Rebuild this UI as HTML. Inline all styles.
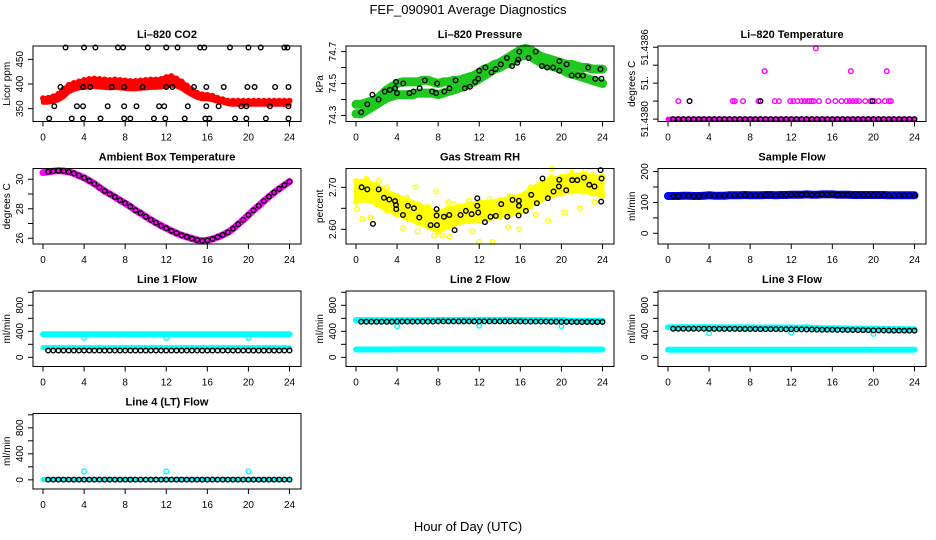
<!DOCTYPE html>
<html><head><meta charset="utf-8"><style>
body{margin:0;background:#fff;}
svg{display:block;font-family:"Liberation Sans",sans-serif;}
</style></head><body>
<svg id="c" width="936" height="540" viewBox="0 0 936 540">
<text x="468" y="14" font-size="13" text-anchor="middle">FEF_090901  Average Diagnostics</text>
<text x="468" y="531" font-size="13" text-anchor="middle">Hour of Day (UTC)</text>
</svg>
<script>
// ---- data ----
const H = [0,0.5,1,1.5,2,2.5,3,3.5,4,4.5,5,5.5,6,6.5,7,7.5,8,8.5,9,9.5,10,10.5,11,11.5,12,12.5,13,13.5,14,14.5,15,15.5,16,16.5,17,17.5,18,18.5,19,19.5,20,20.5,21,21.5,22,22.5,23,23.5,24];
const HR = [0,1,2,3,4,5,6,7,8,9,10,11,12,13,14,15,16,17,18,19,20,21,22,23,24];
const xTicks = [0,4,8,12,16,20,24];

const co2Lo = [362,362,364,367,373,383,388,391,392,393,394,393,392,391,392,391,390,389,389,390,391,392,392,393,395,397,395,390,383,377,372,369,369,367,364,362,359,358,358,358,358,358,358,358,358,358,358,358,358];
const co2Hi = [371,372,375,380,390,398,402,405,408,410,411,410,409,408,409,408,407,406,406,407,408,409,409,410,414,416,411,405,397,389,382,379,378,376,372,369,366,366,366,366,366,366,366,366,366,366,366,366,366];
const co2BlackX = [2.2,4,5.1,7.3,7.8,10.2,12,13.1,15.3,15.7,18.2,20,21.2,23.5,23.8, 1.7,3.9,4.6,6.7,7.9,9.7,12,12.6,14.7,15.9,17.6,19.9,20.6,22.6,23.9, 1.1,3.3,3.9,6.3,7.9,9.1,11.3,11.8,14.1,15.9,17.1,19.3,19.8,22.1,23.9, 0.6,2.8,3.9,5.6,7.9,8.5,10.8,11.9,13.8,15.8,16.2,18.7,19.8,21.7,23.9];
const co2BlackY = [474,474,474,474,474,474,474,474,474,474,474,474,474,474,474, 394,394,394,394,394,394,394,394,394,394,394,394,394,394,394, 355,355,355,355,355,355,355,355,355,355,355,355,355,355,355, 330,330,330,330,330,330,330,330,330,330,330,330,330,330,330];

const presLo = [74.31,74.31,74.33,74.35,74.37,74.39,74.41,74.42,74.43,74.43,74.43,74.43,74.44,74.44,74.44,74.44,74.43,74.44,74.45,74.46,74.47,74.48,74.50,74.51,74.53,74.55,74.57,74.59,74.60,74.62,74.63,74.65,74.67,74.68,74.67,74.65,74.63,74.62,74.61,74.60,74.59,74.57,74.56,74.55,74.54,74.53,74.52,74.51,74.50];
const presHi = [74.37,74.37,74.38,74.39,74.40,74.43,74.46,74.48,74.50,74.51,74.51,74.51,74.51,74.52,74.52,74.51,74.50,74.51,74.51,74.52,74.52,74.53,74.54,74.55,74.57,74.59,74.60,74.62,74.63,74.65,74.67,74.69,74.71,74.72,74.71,74.69,74.67,74.66,74.65,74.64,74.63,74.62,74.62,74.61,74.60,74.60,74.59,74.59,74.59];
const presBlackX = [0.5,1.1,1.6,2.2,2.8,3.3,3.8,3.9,4,4.6,5.2,5.6,6.2,6.7,7.4,7.8,7.9,8.6,9.1,9.7,10.6,11.1,11.6,11.9,12,12.6,13.2,13.6,14.1,14.7,15.2,15.7,15.8,15.9,16.8,17.5,18.1,18.6,19.2,19.8,19.8,20.5,21,21.6,22.1,22.6,23.3,23.8,23.9];
const presBlackY = [74.32,74.37,74.43,74.40,74.45,74.46,74.47,74.51,74.44,74.50,74.44,74.45,74.47,74.52,74.45,74.44,74.50,74.45,74.47,74.52,74.47,74.48,74.51,74.53,74.58,74.60,74.57,74.59,74.62,74.66,74.61,74.63,74.65,74.70,74.66,74.70,74.61,74.60,74.60,74.58,74.64,74.62,74.55,74.55,74.55,74.60,74.53,74.59,74.53];

const tempMagX = [1,2.1,6.3,6.5,7.3,8.8,9,10.4,10.8,11.9,12.2,12.6,13,13.3,13.6,13.8,14,14.2,14.7,15.6,16.3,16.9,17.4,17.7,18,18.3,18.6,19.2,19.7,20.1,20.5,21.1,21.5,21.7, 9.4,17.8,21.3, 14.4];
const tempMagY = [51.43815,51.43815,51.43815,51.43815,51.43815,51.43815,51.43815,51.43815,51.43815,51.43815,51.43815,51.43815,51.43815,51.43815,51.43815,51.43815,51.43815,51.43815,51.43815,51.43815,51.43815,51.43815,51.43815,51.43815,51.43815,51.43815,51.43815,51.43815,51.43815,51.43815,51.43815,51.43815,51.43815,51.43815, 51.4384,51.4384,51.4384, 51.43859];
const tempBase = [51.4380,51.4380,51.4380,51.4380,51.4380,51.4380,51.4380,51.4380,51.4380,51.4380,51.4380,51.4380,51.4380,51.4380,51.4380,51.4380,51.4380,51.4380,51.4380,51.4380,51.4380,51.4380,51.4380,51.4380,51.4380,51.4380,51.4380,51.4380,51.4380,51.4380,51.4380,51.4380,51.4380,51.4380,51.4380,51.4380,51.4380,51.4380,51.4380,51.4380,51.4380,51.4380,51.4380,51.4380,51.4380,51.4380,51.4380,51.4380,51.4380];
const tempBlackX = [2.1,9,19.9];
const tempBlackY = [51.43815,51.43815,51.43815];

const ambient = [30.45,30.5,30.55,30.58,30.56,30.5,30.4,30.25,30.1,29.9,29.7,29.45,29.2,29.0,28.8,28.58,28.37,28.15,27.9,27.7,27.47,27.25,27.05,26.85,26.68,26.5,26.35,26.2,26.09,25.98,25.88,25.82,25.86,25.95,26.08,26.22,26.4,26.65,26.95,27.25,27.58,27.9,28.2,28.52,28.82,29.1,29.35,29.6,29.84];

const rhLo = [2.665,2.670,2.660,2.645,2.635,2.625,2.615,2.605,2.595,2.605,2.615,2.620,2.620,2.625,2.630,2.635,2.640,2.655,2.670,2.680,2.685,2.690,2.690,2.685,2.680];
const rhHi = [2.715,2.715,2.705,2.690,2.680,2.670,2.660,2.650,2.640,2.650,2.655,2.660,2.665,2.665,2.670,2.675,2.680,2.695,2.710,2.720,2.725,2.730,2.730,2.725,2.725];
const rhYelX = [0.1,0.6,1.4,2.2,4.6,5.8,6.0,7.6,7.8,8.4,9.1,9.5,11.3,12,13.3,14.8,15.9,17.5,18.7,19.1,20.3,21.8,22.3,23.2,23.8,1.0,3.0,5.0,7.0,9.0,11.0,13.0,15.0,17.0,19.0,21.0,23.0];
const rhYelY = [2.648,2.625,2.628,2.715,2.603,2.700,2.595,2.585,2.690,2.585,2.583,2.660,2.595,2.570,2.570,2.605,2.600,2.635,2.620,2.745,2.640,2.650,2.740,2.665,2.725,2.720,2.700,2.675,2.655,2.665,2.668,2.672,2.680,2.700,2.725,2.735,2.730];
const rhBlackX = [0.55,1.10,1.65,2.21,2.72,3.24,3.80,3.89,3.92,4.57,5.06,5.64,6.16,7.27,7.85,7.85,7.88,8.56,9.08,9.60,10.18,10.70,11.26,11.81,11.81,11.90,12.55,13.10,13.62,14.14,14.73,15.24,15.86,15.86,15.83,16.54,17.06,17.61,18.16,18.68,19.23,19.75,19.79,20.47,21.05,21.54,22.19,22.71,23.22,23.81,23.91,23.87];
const rhBlackY = [2.700,2.695,2.613,2.695,2.675,2.671,2.667,2.658,2.648,2.634,2.656,2.650,2.628,2.610,2.648,2.633,2.610,2.630,2.634,2.598,2.634,2.644,2.636,2.674,2.656,2.640,2.617,2.630,2.632,2.660,2.630,2.670,2.668,2.656,2.633,2.644,2.682,2.662,2.721,2.674,2.690,2.702,2.718,2.693,2.717,2.717,2.723,2.706,2.702,2.741,2.721,2.666];

const sampleFlow = [121,121,121,122,122,121,121,122,123,122,122,122,123,123,123,124,123,123,123,124,124,123,124,124,125,125,125,126,125,125,126,126,126,125,125,125,124,124,124,124,124,124,124,123,123,123,123,123,123];

const l1Upper = [355,355,355,356,356,356,356,356,355,356,356,356,356,356,356,356,356,356,356,356,356,356,356,356,356,356,356,356,356,356,356,356,356,356,356,356,356,356,356,356,355,356,356,356,356,356,356,356,356];
const l1Lower = [150,150,150,150,150,150,150,150,150,150,150,150,150,150,150,150,150,150,150,150,150,150,150,150,150,150,150,150,150,150,150,150,150,150,150,150,150,150,150,150,150,150,150,150,150,150,150,150,150];
const l1Black = [105,105,105,105,105,105,105,105,105,105,105,105,105,105,105,105,105,105,105,105,105,105,105,105,105,105,105,105,105,105,105,105,105,105,105,105,105,105,105,105,105,105,105,105,105,105,105,105,105];
const dipX = [4,12,20];
const l1Dip = [300,300,300];

const l2Upper = [572,572,572,572,572,572,572,572,572,572,572,572,572,572,574,574,574,574,575,575,575,575,575,575,575,576,576,576,575,575,575,575,575,575,574,574,574,572,572,572,570,566,564,562,560,560,558,558,558];
const l2Lower = [120,120,120,120,120,120,120,120,122,122,122,122,122,122,122,122,122,122,122,122,122,122,122,122,122,122,122,122,122,122,122,122,122,122,122,122,122,122,122,122,122,120,120,120,120,120,120,120,120];
const l2Black = [548,548,548,548,548,548,548,548,550,550,550,550,550,550,550,550,552,552,552,552,552,552,552,552,552,552,552,552,552,552,552,552,552,550,550,550,550,550,548,548,546,546,546,544,544,544,544,544,544];
const l2Dip = [480,485,480];

const l3Upper = [462,462,462,462,462,462,462,462,462,460,460,460,460,460,460,460,460,458,458,458,458,458,458,458,458,455,458,460,452,450,448,448,446,446,444,444,442,442,440,440,438,438,436,436,434,434,432,432,432];
const l3Lower = [118,118,118,118,118,118,118,118,118,118,118,118,118,118,118,118,118,118,118,118,118,118,118,118,118,118,118,118,118,118,118,118,118,118,118,118,118,118,118,118,118,118,118,118,118,118,118,118,118];
const l3Black = [440,440,440,440,440,440,440,440,440,438,438,438,438,438,436,436,436,436,434,434,434,434,432,432,432,430,430,428,428,426,424,424,424,422,422,420,420,418,418,416,414,414,412,412,410,410,410,410,410];
const l3Dip = [370,380,360];

const l4Cyan = [5,5,5,5,5,5,5,5,5,5,5,5,5,5,5,5,5,5,5,5,5,5,5,5,5,5,5,5,5,5,5,5,5,5,5,5,5,5,5,5,5,5,5,5,5,5,5,5,5];
const l4Black = [3,3,3,3,3,3,3,3,3,3,3,3,3,3,3,3,3,3,3,3,3,3,3,3,3,3,3,3,3,3,3,3,3,3,3,3,3,3,3,3,3,3,3,3,3,3,3,3,3];
const l4Dip = [130,130,130];

// ---- drawing ----
const svg = document.getElementById('c');
const NS = 'http://www.w3.org/2000/svg';
const colL = [33,346,658], rowT = [46,168.5,291,413.5], PW = 268, PH = 75.5;
function mk(tag, attrs, parent){
  const e = document.createElementNS(NS, tag);
  for (const k in attrs) e.setAttribute(k, attrs[k]);
  (parent||svg).appendChild(e);
  return e;
}
function panel(col,row,name,title,ylab,ymin,ymax,ticks,labels){
  const L = colL[col], T = rowT[row], B = T+PH, R = L+PW;
  const g = mk('g',{});
  
  
  const x = h => L + 10 + h*(246.5/24);
  const y = v => B - (v-ymin)/(ymax-ymin)*PH;
  const marks = mk('g',{}, g);
  
  
  const box = mk('rect',{x:L,y:T,width:PW,height:PH,fill:'none',stroke:'#000','stroke-width':1}, g);
  
  
  const t = mk('text',{x:(L+R)/2,y:T-8,'font-size':11,'font-weight':'bold','text-anchor':'middle'}, g);
  t.textContent = title;
  
  
  const yl = mk('text',{x:L-23,y:(T+B)/2,'font-size':10,'text-anchor':'middle',transform:`rotate(-90 ${L-23} ${(T+B)/2})`}, g);
  yl.textContent = ylab;
  
  
  // x axis
  const xa = mk('g',{}, g);
  
  
  mk('line',{x1:x(xTicks[0]),x2:x(xTicks[xTicks.length-1]),y1:B,y2:B,stroke:'#000'}, xa);
  xTicks.forEach(v=>{
    mk('line',{x1:x(v),x2:x(v),y1:B,y2:B+5,stroke:'#000'}, xa);
    const tl = mk('text',{x:x(v),y:B+19,'font-size':10,'text-anchor':'middle'}, xa);
    tl.textContent = v;
    
    
  });
  // y axis
  const ya = mk('g',{}, g);
  
  
  ticks.forEach((v,i)=>{
    mk('line',{x1:L-5,x2:L,y1:y(v),y2:y(v),stroke:'#000'}, ya);
    if (labels[i]) {
      const tl = mk('text',{x:L-10,y:y(v),'font-size':10,'text-anchor':'middle',transform:`rotate(-90 ${L-10} ${y(v)})`}, ya);
      tl.textContent = labels[i];
      
      
    }
  });
  return {g:marks,x,y};
}
function pts(p, xs, ys, color, name){
  const g = mk('g',{fill:'none',stroke:color,'stroke-width':1.4}, p.g);
  
  
  xs.forEach((h,i)=>{
    const c = mk('circle',{cx:p.x(h),cy:p.y(ys[i]),r:2.3}, g);
    
    
  });
}
function band(p, xs, ys, color, w, name){
  const d = xs.map((h,i)=>(i?'L':'M')+p.x(h).toFixed(1)+','+p.y(ys[i]).toFixed(1)).join('');
  const e = mk('path',{d,fill:'none',stroke:color,'stroke-width':w,'stroke-linecap':'round','stroke-linejoin':'round'}, p.g);
  
  
}
function area(p, xs, lo, hi, color, name){
  const up = xs.map((h,i)=>p.x(h).toFixed(1)+','+p.y(hi[i]).toFixed(1));
  const dn = xs.map((h,i)=>p.x(h).toFixed(1)+','+p.y(lo[i]).toFixed(1)).reverse();
  const e = mk('polygon',{points:up.concat(dn).join(' '),fill:color,stroke:color,'stroke-width':4,'stroke-linejoin':'round'}, p.g);
  
  
}

// CO2
let p = panel(0,0,'co2-panel','Li\u2013820 CO2','Licor ppm',324,477,[350,400,450],['350','400','450']);
area(p,H,co2Lo,co2Hi,'#ff0000','co2-band');
pts(p,H,co2Hi,'#ff0000','co2-red-upper');
pts(p,co2BlackX,co2BlackY,'#000','co2-black-points');

// Pressure
p = panel(1,0,'pressure-panel','Li\u2013820 Pressure','kPa',74.262,74.735,[74.3,74.4,74.5,74.6,74.7],['74.3','','74.5','','74.7']);
band(p,H,presLo,'#1ec81e',9,'pressure-band-lower');
band(p,H,presHi,'#1ec81e',9,'pressure-band-upper');
pts(p,presBlackX,presBlackY,'#000','pressure-black-points');

// Li-820 Temperature
p = panel(2,0,'licor-temp-panel','Li\u2013820 Temperature','degrees C',51.43798,51.43861,[51.4380,51.43815,51.4383,51.43845,51.4386],['51.4380','','51.','','51.4386']);
band(p,H,tempBase,'#ff00ff',5,'temp-magenta-base');
pts(p,tempMagX,tempMagY,'#ff00ff','temp-magenta-points');
pts(p,H.slice(1),tempBase.slice(1),'#000','temp-black-base');
pts(p,tempBlackX,tempBlackY,'#000','temp-black-points');

// Ambient
p = panel(0,1,'ambient-panel','Ambient Box Temperature','degrees C',25.61,30.73,[26,27,28,29,30],['26','','28','','30']);
band(p,H,ambient,'#ff00ff',7,'ambient-band');
pts(p,H.slice(1),ambient.slice(1),'#000','ambient-black-points');

// RH
p = panel(1,1,'rh-panel','Gas Stream RH','percent',2.565,2.7448,[2.60,2.65,2.70],['2.60','','2.70']);
area(p,HR,rhLo,rhHi,'#ffff00','rh-band');
pts(p,HR,rhLo,'#ffff00','rh-yellow-lower');
pts(p,HR,rhHi,'#ffff00','rh-yellow-upper');
pts(p,rhYelX,rhYelY,'#ffff00','rh-yellow-points');
pts(p,rhBlackX,rhBlackY,'#000','rh-black-points');

// Sample flow
p = panel(2,1,'sample-flow-panel','Sample Flow','ml/min',-34.7,210,[0,50,100,150,200],['0','','100','','200']);
band(p,H,sampleFlow,'#0000ff',8,'sample-flow-band');
pts(p,H.slice(1),sampleFlow.slice(1),'#000','sample-flow-black-points');

const fT = [0,200,400,600,800,1000], fL = ['0','','400','','800',''];
// Line 1
p = panel(0,2,'line1-panel','Line 1 Flow','ml/min',-141,1020,fT,fL);
band(p,H,l1Upper,'#00ffff',6,'line1-cyan-upper');
band(p,H,l1Lower,'#00ffff',5,'line1-cyan-lower');
pts(p,dipX,l1Dip,'#00ffff','line1-cyan-dips');
pts(p,H.slice(1),l1Black.slice(1),'#000','line1-black-points');
// Line 2
p = panel(1,2,'line2-panel','Line 2 Flow','ml/min',-141,1020,fT,fL);
band(p,H,l2Upper,'#00ffff',6,'line2-cyan-upper');
band(p,H,l2Lower,'#00ffff',6,'line2-cyan-lower');
pts(p,dipX,l2Dip,'#00ffff','line2-cyan-dips');
pts(p,H.slice(1),l2Black.slice(1),'#000','line2-black-points');
// Line 3
p = panel(2,2,'line3-panel','Line 3 Flow','ml/min',-141,1020,fT,fL);
band(p,H,l3Upper,'#00ffff',6,'line3-cyan-upper');
band(p,H,l3Lower,'#00ffff',6,'line3-cyan-lower');
pts(p,dipX,l3Dip,'#00ffff','line3-cyan-dips');
pts(p,H.slice(1),l3Black.slice(1),'#000','line3-black-points');
// Line 4
p = panel(0,3,'line4-panel','Line 4 (LT) Flow','ml/min',-141,1020,fT,fL);
band(p,H,l4Cyan,'#00ffff',5,'line4-cyan');
pts(p,dipX,l4Dip,'#00ffff','line4-cyan-dips');
pts(p,H.slice(1),l4Black.slice(1),'#000','line4-black-points');
</script>
</body></html>
